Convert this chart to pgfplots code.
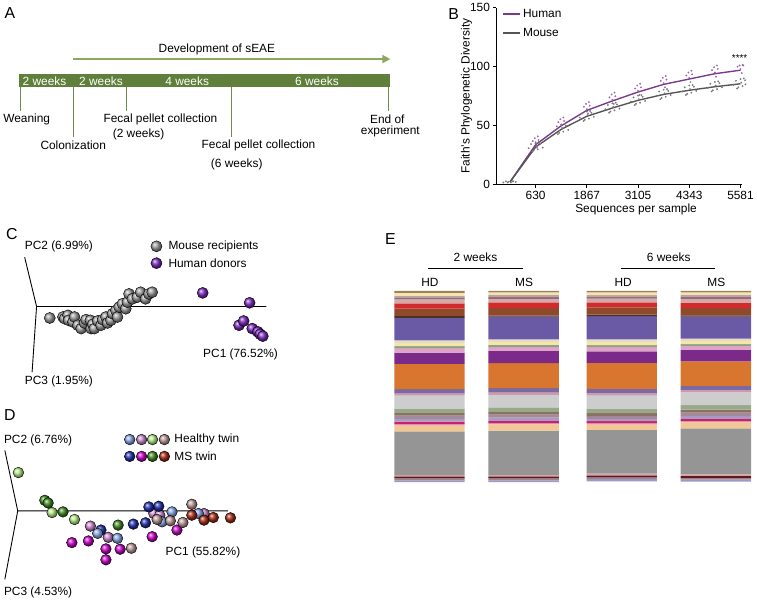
\documentclass[border=0pt]{standalone}
\usepackage{fontspec}
\setmainfont{Liberation Sans}
\usepackage{pgfplots}
\pgfplotsset{compat=1.18}
\usepackage{pgfplotstable}
\usetikzlibrary{arrows.meta}

\newcommand\fs[1]{\fontsize{#1bp}{#1bp}\selectfont}

% colours
\definecolor{barg}{HTML}{5F7F3A}
\definecolor{arrg}{HTML}{8CA85A}
\definecolor{tickg}{HTML}{6E8C4E}
\definecolor{hum}{HTML}{7A3A8C}
\definecolor{humdot}{HTML}{9A68AA}
\definecolor{mou}{HTML}{555555}
\definecolor{moudot}{HTML}{7A7A7A}
\definecolor{mgray}{HTML}{9A9A9A}
\definecolor{hpurp}{HTML}{7A28C0}
\definecolor{LG}{HTML}{B8EE88}
\definecolor{DG}{HTML}{3F8A1F}
\definecolor{LB}{HTML}{88A8EC}
\definecolor{DB}{HTML}{2030B0}
\definecolor{LP}{HTML}{D088D0}
\definecolor{MG}{HTML}{CC00CC}
\definecolor{RB}{HTML}{C09A9A}
\definecolor{DR}{HTML}{A82A12}
% taxa colours, top to bottom
\definecolor{e1}{HTML}{A08058}
\definecolor{e2}{HTML}{F2E6A8}
\definecolor{e3}{HTML}{C0A0A0}
\definecolor{e4}{HTML}{8E6A7A}
\definecolor{e5}{HTML}{D6A9A9}
\definecolor{e6}{HTML}{D22B2B}
\definecolor{e7}{HTML}{8E4A2A}
\definecolor{e8}{HTML}{4A3222}
\definecolor{e9}{HTML}{6A5AA6}
\definecolor{e10}{HTML}{E4DCCB}
\definecolor{e11}{HTML}{F3E7A3}
\definecolor{e12}{HTML}{8FA286}
\definecolor{e13}{HTML}{DDA3C8}
\definecolor{e14}{HTML}{7C2A8A}
\definecolor{e15}{HTML}{D8752F}
\definecolor{e16}{HTML}{7A6AA2}
\definecolor{e17}{HTML}{C99AB2}
\definecolor{e18}{HTML}{CDCDCD}
\definecolor{e19}{HTML}{98A98A}
\definecolor{e20}{HTML}{8A7262}
\definecolor{e21}{HTML}{A3899A}
\definecolor{e22}{HTML}{A99AC4}
\definecolor{e23}{HTML}{C8226C}
\definecolor{e24}{HTML}{E8A0B0}
\definecolor{e25}{HTML}{F1C893}
\definecolor{e26}{HTML}{959595}
\definecolor{e27}{HTML}{D8A0A8}
\definecolor{e28}{HTML}{5E1A1A}
\definecolor{e29}{HTML}{A08090}
\definecolor{e30}{HTML}{9A9AC8}

% relative abundance (%), one row per bar
\pgfplotstableread{
x s1 s2 s3 s4 s5 s6 s7 s8 s9 s10 s11 s12 s13 s14 s15 s16 s17 s18 s19 s20 s21 s22 s23 s24 s25 s26 s27 s28 s29 s30
431.5 1.0 1.4 1.0 1.0 2.1 2.8 3.8 1.0 11.7 1.4 1.7 1.0 2.4 5.9 13.1 2.1 1.4 6.9 2.1 1.4 1.7 1.4 1.4 0.7 3.1 22.8 0.7 1.0 1.0 1.0
526.5 0.8 1.2 1.2 1.0 1.8 3.0 3.9 0.6 11.9 1.2 1.6 1.2 2.0 6.4 13.0 2.1 1.4 6.6 2.4 1.4 1.6 1.6 1.4 0.5 3.2 23.2 0.8 1.0 1.0 1.0
625.5 0.8 1.4 1.0 0.8 2.0 2.6 3.8 0.8 12.2 1.2 1.8 1.0 2.2 6.0 13.6 2.1 1.4 7.0 2.2 1.6 1.4 1.2 1.2 0.6 2.8 22.9 0.8 1.0 1.0 1.2
720.5 0.8 1.2 1.2 1.0 2.0 2.8 3.8 0.6 11.5 1.2 1.7 1.0 2.0 6.0 12.8 2.1 1.4 6.6 2.4 1.6 1.8 1.4 1.2 0.6 3.2 24.0 0.8 1.0 1.0 1.0
}\tabE

\begin{document}
\begin{tikzpicture}
\path (0,0) rectangle (757bp,-603bp);

% ---------- frame in pixel units: panel A, letters, PCoA axes, headers
\begin{axis}[at={(0,0)}, anchor=north west, scale only axis,
  width=757bp, height=603bp, xmin=0, xmax=757, ymin=0, ymax=603,
  y dir=reverse, hide axis, clip=false]
\node[font=\fs{16}] at (8,12) {A};
\node[font=\fs{16}] at (456,13) {B};
\node[font=\fs{16}] at (10,235) {C};
\node[font=\fs{16}] at (8,417) {D};
\node[font=\fs{16}] at (392,240) {E};

% A: timeline
\node[font=\fs{12}] at (217,48) {Development of sEAE};
\draw[arrg, line width=2.4bp, -{Triangle[length=8bp,width=8bp]}] (72,58) -- (392,58);
\addplot[fill=barg, draw=none] coordinates {(17,73) (392,73) (392,86) (17,86)} -- cycle;
\node[font=\fs{12}, text=white] at (43,80) {2 weeks};
\node[font=\fs{12}, text=white] at (100,80) {2 weeks};
\node[font=\fs{12}, text=white] at (187,80) {4 weeks};
\node[font=\fs{12}, text=white] at (318,80) {6 weeks};
\draw[tickg, line width=1bp] (19,86) -- (19,110);
\draw[tickg, line width=1bp] (72,86) -- (72,137);
\draw[tickg, line width=1bp] (126,86) -- (126,110);
\draw[tickg, line width=1bp] (232,86) -- (232,137);
\draw[tickg, line width=1bp] (390,86) -- (390,110);
\node[font=\fs{12}] at (25,119) {Weaning};
\node[font=\fs{12}] at (72,145) {Colonization};
\node[font=\fs{12}] at (160,119) {Fecal pellet collection};
\node[font=\fs{12}] at (138,134) {(2 weeks)};
\node[font=\fs{12}] at (259,145) {Fecal pellet collection};
\node[font=\fs{12}] at (237,164) {(6 weeks)};
\node[font=\fs{12}] at (389,119) {End of};
\node[font=\fs{12}] at (392,131) {experiment};

% C: axes and legend
\draw[black, line width=0.9bp] (23,258) -- (35,307.7) -- (267,307.7);
\draw[black, line width=0.9bp] (35,307.7) -- (30.5,374);
\node[font=\fs{12}, anchor=west, inner sep=0pt] at (23,247) {PC2 (6.99\%)};
\node[font=\fs{12}, anchor=west, inner sep=0pt] at (23,383) {PC3 (1.95\%)};
\node[font=\fs{12}, anchor=west, inner sep=0pt] at (203,356) {PC1 (76.52\%)};
\addplot[only marks, mark=ball, mark size=5.6bp, mark options={ball color=mgray}] coordinates {(156,247)};
\addplot[only marks, mark=ball, mark size=5.6bp, mark options={ball color=hpurp}] coordinates {(156,264)};
\node[font=\fs{12}, anchor=west, inner sep=0pt] at (168,247) {Mouse recipients};
\node[font=\fs{12}, anchor=west, inner sep=0pt] at (168,264) {Human donors};

% D: axes and legend
\draw[black, line width=0.9bp] (3,453) -- (16,514) -- (228,514);
\draw[black, line width=0.9bp] (16,514) -- (3,583);
\node[font=\fs{12}, anchor=west, inner sep=0pt] at (2,443) {PC2 (6.76\%)};
\node[font=\fs{12}, anchor=west, inner sep=0pt] at (2,596) {PC3 (4.53\%)};
\node[font=\fs{12}, anchor=west, inner sep=0pt] at (165,556) {PC1 (55.82\%)};
\addplot[only marks, mark=ball, mark size=5.4bp, mark options={ball color=LB}] coordinates {(129,442)};
\addplot[only marks, mark=ball, mark size=5.4bp, mark options={ball color=LP}] coordinates {(141,442)};
\addplot[only marks, mark=ball, mark size=5.4bp, mark options={ball color=LG}] coordinates {(152,442)};
\addplot[only marks, mark=ball, mark size=5.4bp, mark options={ball color=RB}] coordinates {(164,442)};
\addplot[only marks, mark=ball, mark size=5.4bp, mark options={ball color=DB}] coordinates {(129,459)};
\addplot[only marks, mark=ball, mark size=5.4bp, mark options={ball color=MG}] coordinates {(141,459)};
\addplot[only marks, mark=ball, mark size=5.4bp, mark options={ball color=DG}] coordinates {(152,459)};
\addplot[only marks, mark=ball, mark size=5.4bp, mark options={ball color=DR}] coordinates {(164,459)};
\node[font=\fs{12}, anchor=west, inner sep=0pt] at (174,442) {Healthy twin};
\node[font=\fs{12}, anchor=west, inner sep=0pt] at (174,459) {MS twin};

% E: headers
\node[font=\fs{12}] at (478,258) {2 weeks};
\draw[black, line width=0.8bp] (430,269) -- (526,269);
\node[font=\fs{12}] at (673,258) {6 weeks};
\draw[black, line width=0.8bp] (625,269) -- (720,269);
\node[font=\fs{12}] at (432,283) {HD};
\node[font=\fs{12}] at (527,283) {MS};
\node[font=\fs{12}] at (627,283) {HD};
\node[font=\fs{12}] at (721,283) {MS};
\end{axis}

% ---------- B: rarefaction
\begin{axis}[at={(499bp,-6bp)}, anchor=north west, scale only axis,
  width=248bp, height=179bp,
  xmin=-320, xmax=5620, ymin=0, ymax=150,
  axis x line*=bottom, axis y line*=left,
  axis line style={-, line width=0.8bp},
  xtick={630,1867,3105,4343,5581}, ytick={0,50,100,150},
  scaled x ticks=false,
  /pgf/number format/1000 sep={},
  /pgf/number format/assume math mode=true,
  tick align=outside, major tick length=3bp,
  tick style={black, line width=0.8bp},
  ticklabel style={font=\fs{12}},
  xlabel={Sequences per sample}, ylabel={Faith's Phylogenetic Diversity},
  label style={font=\fs{12}},
  xlabel style={xshift=17bp, yshift=3bp},
  ylabel style={yshift=-9bp},
  clip=false,
  legend style={draw=none, fill=none, at={(0.025,1.002)}, anchor=north west,
    font=\fs{12}, row sep=5.5bp, inner sep=0pt},
  legend cell align=left,
  legend image code/.code={\draw[#1, line width=1.6bp] (0bp,0bp) -- (17bp,0bp);}
]
\addplot[only marks, mark=*, mark size=0.7bp, color=moudot, forget plot] coordinates {
(-150,2) (-90,3) (-30,2.5) (30,2) (90,3) (150,2.5) (-50,2) (70,3)
(460,31) (520,34.5) (580,29) (630,36) (680,30) (740,35) (800,31.5) (550,28) (710,36.5) (650,33)
(1079,46) (1139,49.5) (1199,44) (1249,51) (1299,45) (1359,50) (1419,46.5) (1169,43) (1329,51.5) (1269,48)
(1697,57) (1757,60.5) (1817,55) (1867,62) (1917,56) (1977,61) (2037,57.5) (1787,54) (1947,62.5) (1887,59)
(2316,64) (2376,67.5) (2436,62) (2486,69) (2536,63) (2596,68) (2656,64.5) (2406,61) (2566,69.5) (2506,66)
(2935,70.5) (2995,74) (3055,68.5) (3105,75.5) (3155,69.5) (3215,74.5) (3275,71) (3025,67.5) (3185,76) (3125,72.5)
(3554,75.5) (3614,79) (3674,73.5) (3724,80.5) (3774,74.5) (3834,79.5) (3894,76) (3644,72.5) (3804,81) (3744,77.5)
(4173,79) (4233,82.5) (4293,77) (4343,84) (4393,78) (4453,83) (4513,79.5) (4263,76) (4423,84.5) (4363,81)
(4792,82) (4852,85.5) (4912,80) (4962,87) (5012,81) (5072,86) (5132,82.5) (4882,79) (5042,87.5) (4982,84)
(5411,84.5) (5471,88) (5531,82.5) (5581,89.5) (5631,83.5) (5691,88.5) (5700,85) (5501,81.5) (5661,90) (5601,86.5)
};
\addplot[only marks, mark=*, mark size=0.7bp, color=humdot, forget plot] coordinates {
(560,37) (610,39.5) (660,31.5) (700,38) (630,35) (680,41)
(1179,53) (1229,55.5) (1279,47.5) (1319,54) (1249,51) (1299,57)
(1797,66) (1847,68.5) (1897,60.5) (1937,67) (1867,64) (1917,70)
(2416,74) (2466,76.5) (2516,68.5) (2556,75) (2486,72) (2536,78)
(3035,81.5) (3085,84) (3135,76) (3175,82.5) (3105,79.5) (3155,85.5)
(3654,88) (3704,90.5) (3754,82.5) (3794,89) (3724,86) (3774,92)
(4273,92.5) (4323,95) (4373,87) (4413,93.5) (4343,90.5) (4393,96.5)
(4892,97) (4942,99.5) (4992,91.5) (5032,98) (4962,95) (5012,101)
(5511,100) (5561,101) (5611,94.5) (5651,101) (5581,98) (5631,101.5)
};
\addplot[color=hum, line width=1.4bp, mark=none] coordinates {
(10,2.5) (630,34) (1249,50) (1867,63) (2486,71) (3105,78.5) (3724,85) (4343,89.5) (4962,94) (5581,97)
};
\addlegendentry{Human}
\addplot[color=mou, line width=1.4bp, mark=none] coordinates {
(10,2.5) (630,32) (1249,47) (1867,58) (2486,65) (3105,71.5) (3724,76.5) (4343,80) (4962,83) (5581,85.5)
};
\addlegendentry{Mouse}
\node[font=\fs{10}] at (axis cs:5560,107) {****};
\end{axis}

% ---------- C: PCoA, mouse recipients vs human donors
\begin{axis}[at={(30bp,-285bp)}, anchor=north west, scale only axis,
  width=240bp, height=60bp, xmin=0, xmax=720, ymin=0, ymax=180,
  y dir=reverse, hide axis, clip=false]
\addplot[only marks, mark=ball, mark size=5.6bp, mark options={ball color=mgray}] coordinates {
(55,103) (95,100) (100,105) (110,95) (112,110) (125,115) (130,100) (140,125) (150,135)
(160,118) (165,108) (178,110) (180,135) (185,122) (190,135) (200,112) (210,125) (215,108)
(225,100) (230,118) (240,110) (245,90) (255,80) (260,100) (265,70) (275,60) (285,75)
(290,55) (295,30) (305,45) (320,40) (330,25) (345,45) (355,30) (365,25)
};
\addplot[only marks, mark=ball, mark size=5.6bp, mark options={ball color=hpurp}] coordinates {
(518,27) (660,57) (628,125) (642,112) (668,135) (685,145) (692,152) (700,158)
};
\end{axis}

% ---------- D: PCoA, twins
\begin{axis}[at={(30bp,-495bp)}, anchor=north west, scale only axis,
  width=210bp, height=90bp, xmin=0, xmax=630, ymin=0, ymax=270,
  y dir=reverse, hide axis, clip=false,
  every axis plot/.append style={only marks, mark=ball, mark size=5.4bp}]
\addplot[mark options={ball color=LG}] coordinates {(-40,-59) (62,62) (130,83)};
\addplot[mark options={ball color=DG}] coordinates {(40,25) (50,33) (95,60) (262,100)};
\addplot[mark options={ball color=MG}] coordinates {(122,153) (172,148) (225,172) (268,173) (225,205) (365,135) (440,115)};
\addplot[mark options={ball color=LP}] coordinates {(178,103) (232,137) (370,65) (388,70) (522,65)};
\addplot[mark options={ball color=DB}] coordinates {(210,115) (308,97) (345,93) (355,45) (385,43)};
\addplot[mark options={ball color=LB}] coordinates {(200,125) (260,140) (425,60) (395,90) (505,65)};
\addplot[mark options={ball color=RB}] coordinates {(302,170) (420,87) (458,92) (485,37) (380,83)};
\addplot[mark options={ball color=DR}] coordinates {(485,70) (522,85) (550,77) (602,78)};
\end{axis}

% ---------- E: taxa stacked bars
\begin{axis}[at={(390bp,-292bp)}, anchor=north west, scale only axis,
  width=367bp, height=193bp, xmin=390, xmax=757, ymin=0, ymax=100,
  y dir=reverse, hide axis, ybar stacked, bar width=71, clip=false]
\pgfplotsinvokeforeach{1,...,30}{
  \addplot[fill=e#1, draw=none] table[x=x, y=s#1] {\tabE};
}
\end{axis}
\end{tikzpicture}
\end{document}
